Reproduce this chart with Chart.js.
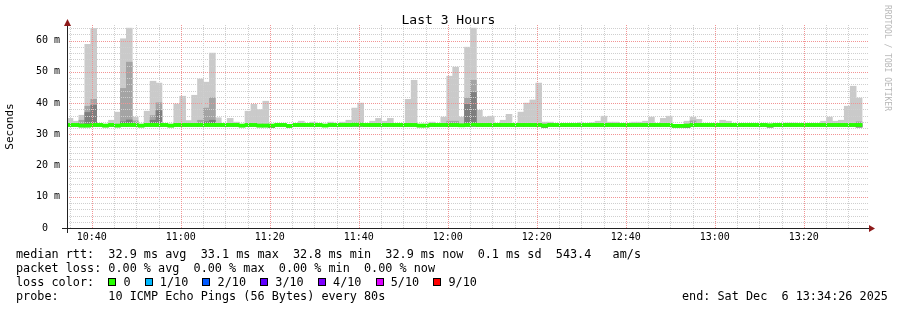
<!DOCTYPE html>
<html>
<head>
<meta charset="utf-8">
<script src="https://cdn.jsdelivr.net/npm/chart.js@4/dist/chart.umd.min.js"></script>
<style>
  body { margin: 0; background: #fff; }
  #wrap { position: relative; width: 897px; height: 310px; overflow: hidden; background: #fff; }
  #smoke { position: absolute; left: 0; top: 0; }
  .mono { position: absolute; font-family: "DejaVu Sans Mono", monospace; white-space: pre; color: #000; }
  .title { left: 0; width: 897px; top: 12px; text-align: center; font-size: 13px; line-height: 16px; }
  .leg { left: 16px; font-size: 11.8px; line-height: 14px; }
  .box { display: inline-block; width: 6px; height: 6px; border: 1px solid #000; }
  .mark { left: 891px; top: 5px; font-size: 8px; line-height: 8px; color: #b8b8b8; transform-origin: 0 0; transform: rotate(90deg); }
</style>
</head>
<body>
<div id="wrap">
  <canvas id="smoke" width="897" height="310"></canvas>
  <div class="mono title">Last 3 Hours</div>
  <div class="mono mark">RRDTOOL / TOBI OETIKER</div>
  <div class="mono leg" style="top:247px">median rtt:  32.9 ms avg  33.1 ms max  32.8 ms min  32.9 ms now  0.1 ms sd  543.4   am/s</div>
  <div class="mono leg" style="top:261px">packet loss: 0.00 % avg  0.00 % max  0.00 % min  0.00 % now</div>
  <div class="mono leg" style="top:275px">loss color:  <span class="box" style="background:#26ff00"></span> 0  <span class="box" style="background:#00b8ff"></span> 1/10  <span class="box" style="background:#0059ff"></span> 2/10  <span class="box" style="background:#5e00ff"></span> 3/10  <span class="box" style="background:#7e00ff"></span> 4/10  <span class="box" style="background:#dd00ff"></span> 5/10  <span class="box" style="background:#ff0000"></span> 9/10</div>
  <div class="mono leg" style="top:289px">probe:       10 ICMP Echo Pings (56 Bytes) every 80s</div>
  <div class="mono leg" style="top:289px;left:682px">end: Sat Dec  6 13:34:26 2025</div>
</div>
<script>
// 80 s steps from 10:34:26 to 13:34:26, values in ms
const startTime = '10:34:26';
const stepSeconds = 80;

const xTickLabels = ['10:40', '11:00', '11:20', '11:40', '12:00', '12:20', '12:40', '13:00', '13:20'];
const yTickValues = [0, 10, 20, 30, 40, 50, 60];
const yTickLabels = ['0', '10 m', '20 m', '30 m', '40 m', '50 m', '60 m'];

const median = [
  33.0, 33.0, 32.8, 32.8, 33.0, 33.0, 32.8, 33.0, 32.8, 33.0,
  33.0, 33.0, 32.8, 33.0, 33.0, 33.0, 33.0, 32.8, 33.0, 33.0,
  33.0, 33.0, 33.0, 33.0, 33.0, 33.0, 33.0, 33.0, 33.0, 32.8,
  33.0, 33.0, 32.8, 32.8, 32.8, 33.0, 33.0, 32.7, 33.0, 33.0,
  33.0, 33.0, 33.0, 32.8, 33.0, 33.0, 33.0, 33.0, 33.1, 33.1,
  33.0, 33.0, 33.0, 33.0, 33.0, 33.0, 33.0, 33.0, 33.0, 32.8,
  32.8, 33.0, 33.0, 33.0, 33.0, 33.0, 32.9, 33.0, 33.1, 33.0,
  33.0, 33.0, 33.0, 33.0, 33.0, 33.0, 33.0, 33.0, 33.0, 33.0,
  32.8, 33.0, 33.0, 33.0, 33.0, 33.0, 33.0, 33.0, 33.0, 33.0,
  33.0, 33.0, 33.0, 33.0, 33.0, 33.0, 33.0, 33.0, 33.0, 33.0,
  33.0, 33.0, 32.7, 32.7, 32.8, 33.0, 33.0, 33.0, 33.0, 33.0,
  33.0, 33.0, 33.0, 33.0, 33.0, 33.0, 33.0, 33.0, 32.9, 33.0,
  33.0, 33.0, 33.0, 33.0, 33.0, 33.0, 33.0, 33.0, 33.0, 33.0,
  33.0, 33.0, 33.0, 33.0, null
];

const pingMin = [
  32.6, 32.6, 32.4, 32.4, 32.6, 32.6, 32.4, 32.6, 32.4, 32.6,
  32.6, 32.6, 32.4, 32.6, 32.6, 32.6, 32.6, 32.4, 32.6, 32.6,
  32.6, 32.6, 32.6, 32.6, 32.6, 32.6, 32.6, 32.6, 32.6, 32.4,
  32.6, 32.6, 32.4, 32.4, 32.2, 32.6, 32.6, 32.3, 32.6, 32.6,
  32.6, 32.6, 32.6, 32.6, 32.6, 32.6, 32.6, 32.6, 32.6, 32.6,
  32.6, 32.6, 32.6, 32.6, 32.6, 32.6, 32.6, 32.6, 32.6, 32.4,
  32.4, 32.6, 32.6, 32.6, 32.6, 32.6, 32.5, 32.6, 32.6, 32.6,
  32.6, 32.6, 32.6, 32.6, 32.6, 32.6, 32.6, 32.6, 32.6, 32.6,
  32.2, 32.6, 32.6, 32.6, 32.6, 32.6, 32.6, 32.6, 32.6, 32.6,
  32.6, 32.6, 32.6, 32.6, 32.6, 32.6, 32.6, 32.6, 32.6, 32.6,
  32.6, 32.6, 32.3, 32.3, 32.2, 32.6, 32.6, 32.6, 32.6, 32.6,
  32.6, 32.6, 32.6, 32.6, 32.6, 32.6, 32.6, 32.6, 32.3, 32.6,
  32.6, 32.6, 32.6, 32.6, 32.6, 32.6, 32.6, 32.6, 32.6, 32.6,
  32.6, 32.6, 32.6, 32.3, null
];

// top of the outer smoke band (slowest ping)
const pingMax = [
  35.1, 34.2, 36.1, 58.8, 63.9, 33.2, 33.2, 34.5, 37.1, 60.6,
  64.0, 35.5, 33.2, 37.4, 47.0, 46.4, 33.2, 33.2, 39.7, 42.2,
  34.4, 42.5, 47.7, 46.7, 56.0, 35.3, 33.2, 35.1, 33.9, 33.2,
  37.4, 39.6, 37.9, 40.6, 33.2, 33.2, 33.2, 33.0, 33.2, 34.2,
  33.2, 33.9, 33.2, 33.2, 33.9, 33.2, 33.9, 34.5, 38.4, 40.0,
  33.2, 34.2, 35.1, 34.2, 35.1, 33.2, 33.2, 41.2, 47.3, 33.2,
  33.2, 33.9, 33.2, 35.5, 48.6, 51.5, 35.5, 57.9, 64.0, 37.7,
  35.5, 35.8, 33.2, 34.5, 36.4, 33.2, 37.1, 40.0, 41.0, 46.4,
  33.9, 33.9, 33.2, 33.2, 33.2, 33.2, 33.7, 33.2, 33.7, 34.2,
  35.8, 33.9, 33.9, 33.2, 33.2, 33.9, 33.9, 34.2, 35.5, 33.2,
  35.1, 35.8, 33.0, 33.0, 34.2, 35.5, 34.8, 33.2, 33.2, 33.2,
  34.5, 34.2, 33.2, 33.2, 33.2, 33.2, 33.2, 33.2, 33.2, 33.2,
  33.2, 33.6, 33.6, 33.2, 33.2, 33.2, 33.2, 34.2, 35.5, 34.2,
  34.5, 39.0, 45.4, 41.6, null
];

// second band (9th ping)
const ping9 = [
  33.2, 33.2, 34.5, 39.0, 41.2, 33.2, 33.2, 33.2, 33.2, 44.7,
  53.1, 34.3, 33.2, 33.2, 36.0, 40.1, 33.2, 33.2, 33.2, 33.2,
  33.2, 33.2, 34.5, 38.4, 41.7, 33.2, 33.2, 33.2, 33.2, 33.2,
  33.2, 33.2, 33.2, 33.2, 33.2, 33.2, 33.2, 33.0, 33.2, 33.2,
  33.2, 33.2, 33.2, 33.2, 33.2, 33.2, 33.2, 33.2, 33.2, 33.2,
  33.2, 33.2, 33.2, 33.2, 33.2, 33.2, 33.2, 33.2, 33.2, 33.2,
  33.2, 33.2, 33.2, 33.2, 34.2, 34.2, 33.2, 41.6, 47.3, 33.2,
  33.2, 33.2, 33.2, 33.2, 33.2, 33.2, 33.2, 33.2, 33.2, 33.2,
  33.2, 33.2, 33.2, 33.2, 33.2, 33.2, 33.2, 33.2, 33.2, 33.2,
  33.2, 33.2, 33.2, 33.2, 33.2, 33.2, 33.2, 33.2, 33.2, 33.2,
  33.2, 33.2, 33.0, 33.0, 33.2, 34.3, 33.2, 33.2, 33.2, 33.2,
  33.2, 33.2, 33.2, 33.2, 33.2, 33.2, 33.2, 33.2, 33.2, 33.2,
  33.2, 33.2, 33.2, 33.2, 33.2, 33.2, 33.2, 33.2, 33.2, 33.2,
  33.2, 33.2, 33.2, 34.0, null
];

// third band (8th ping)
const ping8 = [
  33.1, 33.1, 33.1, 37.0, 39.3, 33.1, 33.1, 33.1, 33.1, 34.0,
  34.6, 33.1, 33.1, 33.1, 34.5, 37.6, 33.1, 33.1, 33.1, 33.1,
  33.1, 33.1, 33.1, 34.0, 34.5, 33.1, 33.1, 33.1, 33.1, 33.1,
  33.1, 33.1, 33.1, 33.1, 33.1, 33.1, 33.1, 33.0, 33.1, 33.1,
  33.1, 33.1, 33.1, 33.1, 33.1, 33.1, 33.1, 33.1, 33.1, 33.1,
  33.1, 33.1, 33.1, 33.1, 33.1, 33.1, 33.1, 33.1, 33.1, 33.1,
  33.1, 33.1, 33.1, 33.1, 33.1, 33.1, 33.1, 39.6, 43.4, 33.1,
  33.1, 33.1, 33.1, 33.1, 33.1, 33.1, 33.1, 33.1, 33.1, 33.1,
  33.1, 33.1, 33.1, 33.1, 33.1, 33.1, 33.1, 33.1, 33.1, 33.1,
  33.1, 33.1, 33.1, 33.1, 33.1, 33.1, 33.1, 33.1, 33.1, 33.1,
  33.1, 33.1, 33.0, 33.0, 33.1, 33.1, 33.1, 33.1, 33.1, 33.1,
  33.1, 33.1, 33.1, 33.1, 33.1, 33.1, 33.1, 33.1, 33.1, 33.1,
  33.1, 33.1, 33.1, 33.1, 33.1, 33.1, 33.1, 33.1, 33.1, 33.1,
  33.1, 33.1, 33.1, 33.1, null
];

const FONT = 'DejaVu Sans Mono';
const GRID_MINOR = '#cfcfcf';
const GRID_MAJOR = '#f29494';

const toMinutes = s => {
  const [h, m, sec] = s.split(':').map(Number);
  return h * 60 + m + (sec || 0) / 60;
};
const startMin = toMinutes(startTime);
const stepMin = stepSeconds / 60;
const endMin = startMin + median.length * stepMin;
const majorMin = xTickLabels.map(toMinutes);

const minorMin = [];
for (let m = Math.ceil(startMin / 5) * 5; m < endMin; m += 5) minorMin.push(m);
const yGrid = [];
for (let v = 2; v < 65; v += 2) yGrid.push(v);

const xs = median.map((_, i) => startMin + (i + 0.5) * stepMin);
const band = (lo, hi) => lo.map((v, i) => ({
  x: xs[i],
  y: v == null || hi[i] == null ? null : [v, hi[i]]
}));
const medianLine = median.map((v, i) => ({
  x: xs[i],
  y: v == null ? null : [v - 0.5, v + 0.5]
}));

const layer = (label, data, color) => ({
  label, data,
  backgroundColor: color,
  borderWidth: 0,
  barPercentage: 1,
  categoryPercentage: 1
});

// dotted rrdtool style grid over the smoke, then axes with arrows
const rrdGrid = {
  id: 'rrdGrid',
  afterDatasetsDraw(chart) {
    const { ctx, chartArea: a, scales: { x, y } } = chart;
    ctx.save();
    ctx.lineWidth = 1;
    ctx.setLineDash([1, 1]);
    const line = (x0, y0, x1, y1, color) => {
      ctx.strokeStyle = color;
      ctx.beginPath();
      ctx.moveTo(x0, y0);
      ctx.lineTo(x1, y1);
      ctx.stroke();
    };
    yGrid.forEach(v => {
      const py = Math.round(y.getPixelForValue(v)) + 0.5;
      line(a.left, py, a.right, py, v % 10 === 0 ? GRID_MAJOR : GRID_MINOR);
    });
    minorMin.forEach(m => {
      const px = Math.round(x.getPixelForValue(m)) + 0.5;
      line(px, a.top, px, a.bottom, majorMin.includes(m) ? GRID_MAJOR : GRID_MINOR);
    });
    ctx.restore();
  },
  afterDraw(chart) {
    const { ctx, chartArea: a } = chart;
    ctx.save();
    ctx.fillStyle = '#222';
    ctx.fillRect(a.left - 5, a.bottom, a.right - a.left + 7, 1);
    ctx.fillRect(a.left, a.top - 3, 1, a.bottom - a.top + 8);
    ctx.fillStyle = '#8e1a1a';
    ctx.beginPath();
    ctx.moveTo(a.left + 0.5, a.top - 6);
    ctx.lineTo(a.left + 4, a.top + 1);
    ctx.lineTo(a.left - 3, a.top + 1);
    ctx.closePath();
    ctx.fill();
    ctx.beginPath();
    ctx.moveTo(a.right + 7, a.bottom + 0.5);
    ctx.lineTo(a.right + 1, a.bottom - 3);
    ctx.lineTo(a.right + 1, a.bottom + 4);
    ctx.closePath();
    ctx.fill();
    ctx.restore();
  }
};

new Chart(document.getElementById('smoke'), {
  type: 'bar',
  data: {
    datasets: [
      layer('median rtt', medianLine, '#26ff00'),
      layer('ping 3-8', band(pingMin, ping8), '#7e7e7e'),
      layer('ping 2-9', band(pingMin, ping9), '#a4a4a4'),
      layer('ping 1-10', band(pingMin, pingMax), '#cacaca')
    ]
  },
  options: {
    responsive: false,
    animation: false,
    layout: { padding: { left: 0, right: 29, top: 25, bottom: 64 } },
    plugins: {
      legend: { display: false },
      tooltip: { enabled: false },
      title: { display: false }
    },
    scales: {
      x: {
        type: 'linear',
        min: startMin,
        max: endMin,
        offset: false,
        stacked: true,
        afterBuildTicks: axis => { axis.ticks = majorMin.map(value => ({ value })); },
        afterFit: axis => { axis.height = 18; },
        ticks: {
          autoSkip: false,
          maxRotation: 0,
          padding: 3,
          color: '#000',
          font: { family: FONT, size: 10 },
          callback: value => xTickLabels[majorMin.indexOf(value)] || ''
        },
        grid: { display: false, drawTicks: false, offset: false },
        border: { display: false }
      },
      y: {
        min: 0,
        max: 65,
        stacked: false,
        afterBuildTicks: axis => { axis.ticks = yTickValues.map(value => ({ value })); },
        afterFit: axis => { axis.width = 67; },
        ticks: {
          autoSkip: false,
          padding: 7,
          color: '#000',
          font: { family: FONT, size: 10 },
          callback: value => {
            const i = yTickValues.indexOf(value);
            if (i < 0) return '';
            return i === 0 ? yTickLabels[i].padEnd(3) : yTickLabels[i];
          }
        },
        grid: { display: false, drawTicks: false },
        border: { display: false },
        title: {
          display: true,
          text: 'Seconds',
          color: '#000',
          font: { family: FONT, size: 11 },
          padding: { top: 4, bottom: 0 }
        }
      }
    }
  },
  plugins: [rrdGrid]
});
</script>
</body>
</html>
